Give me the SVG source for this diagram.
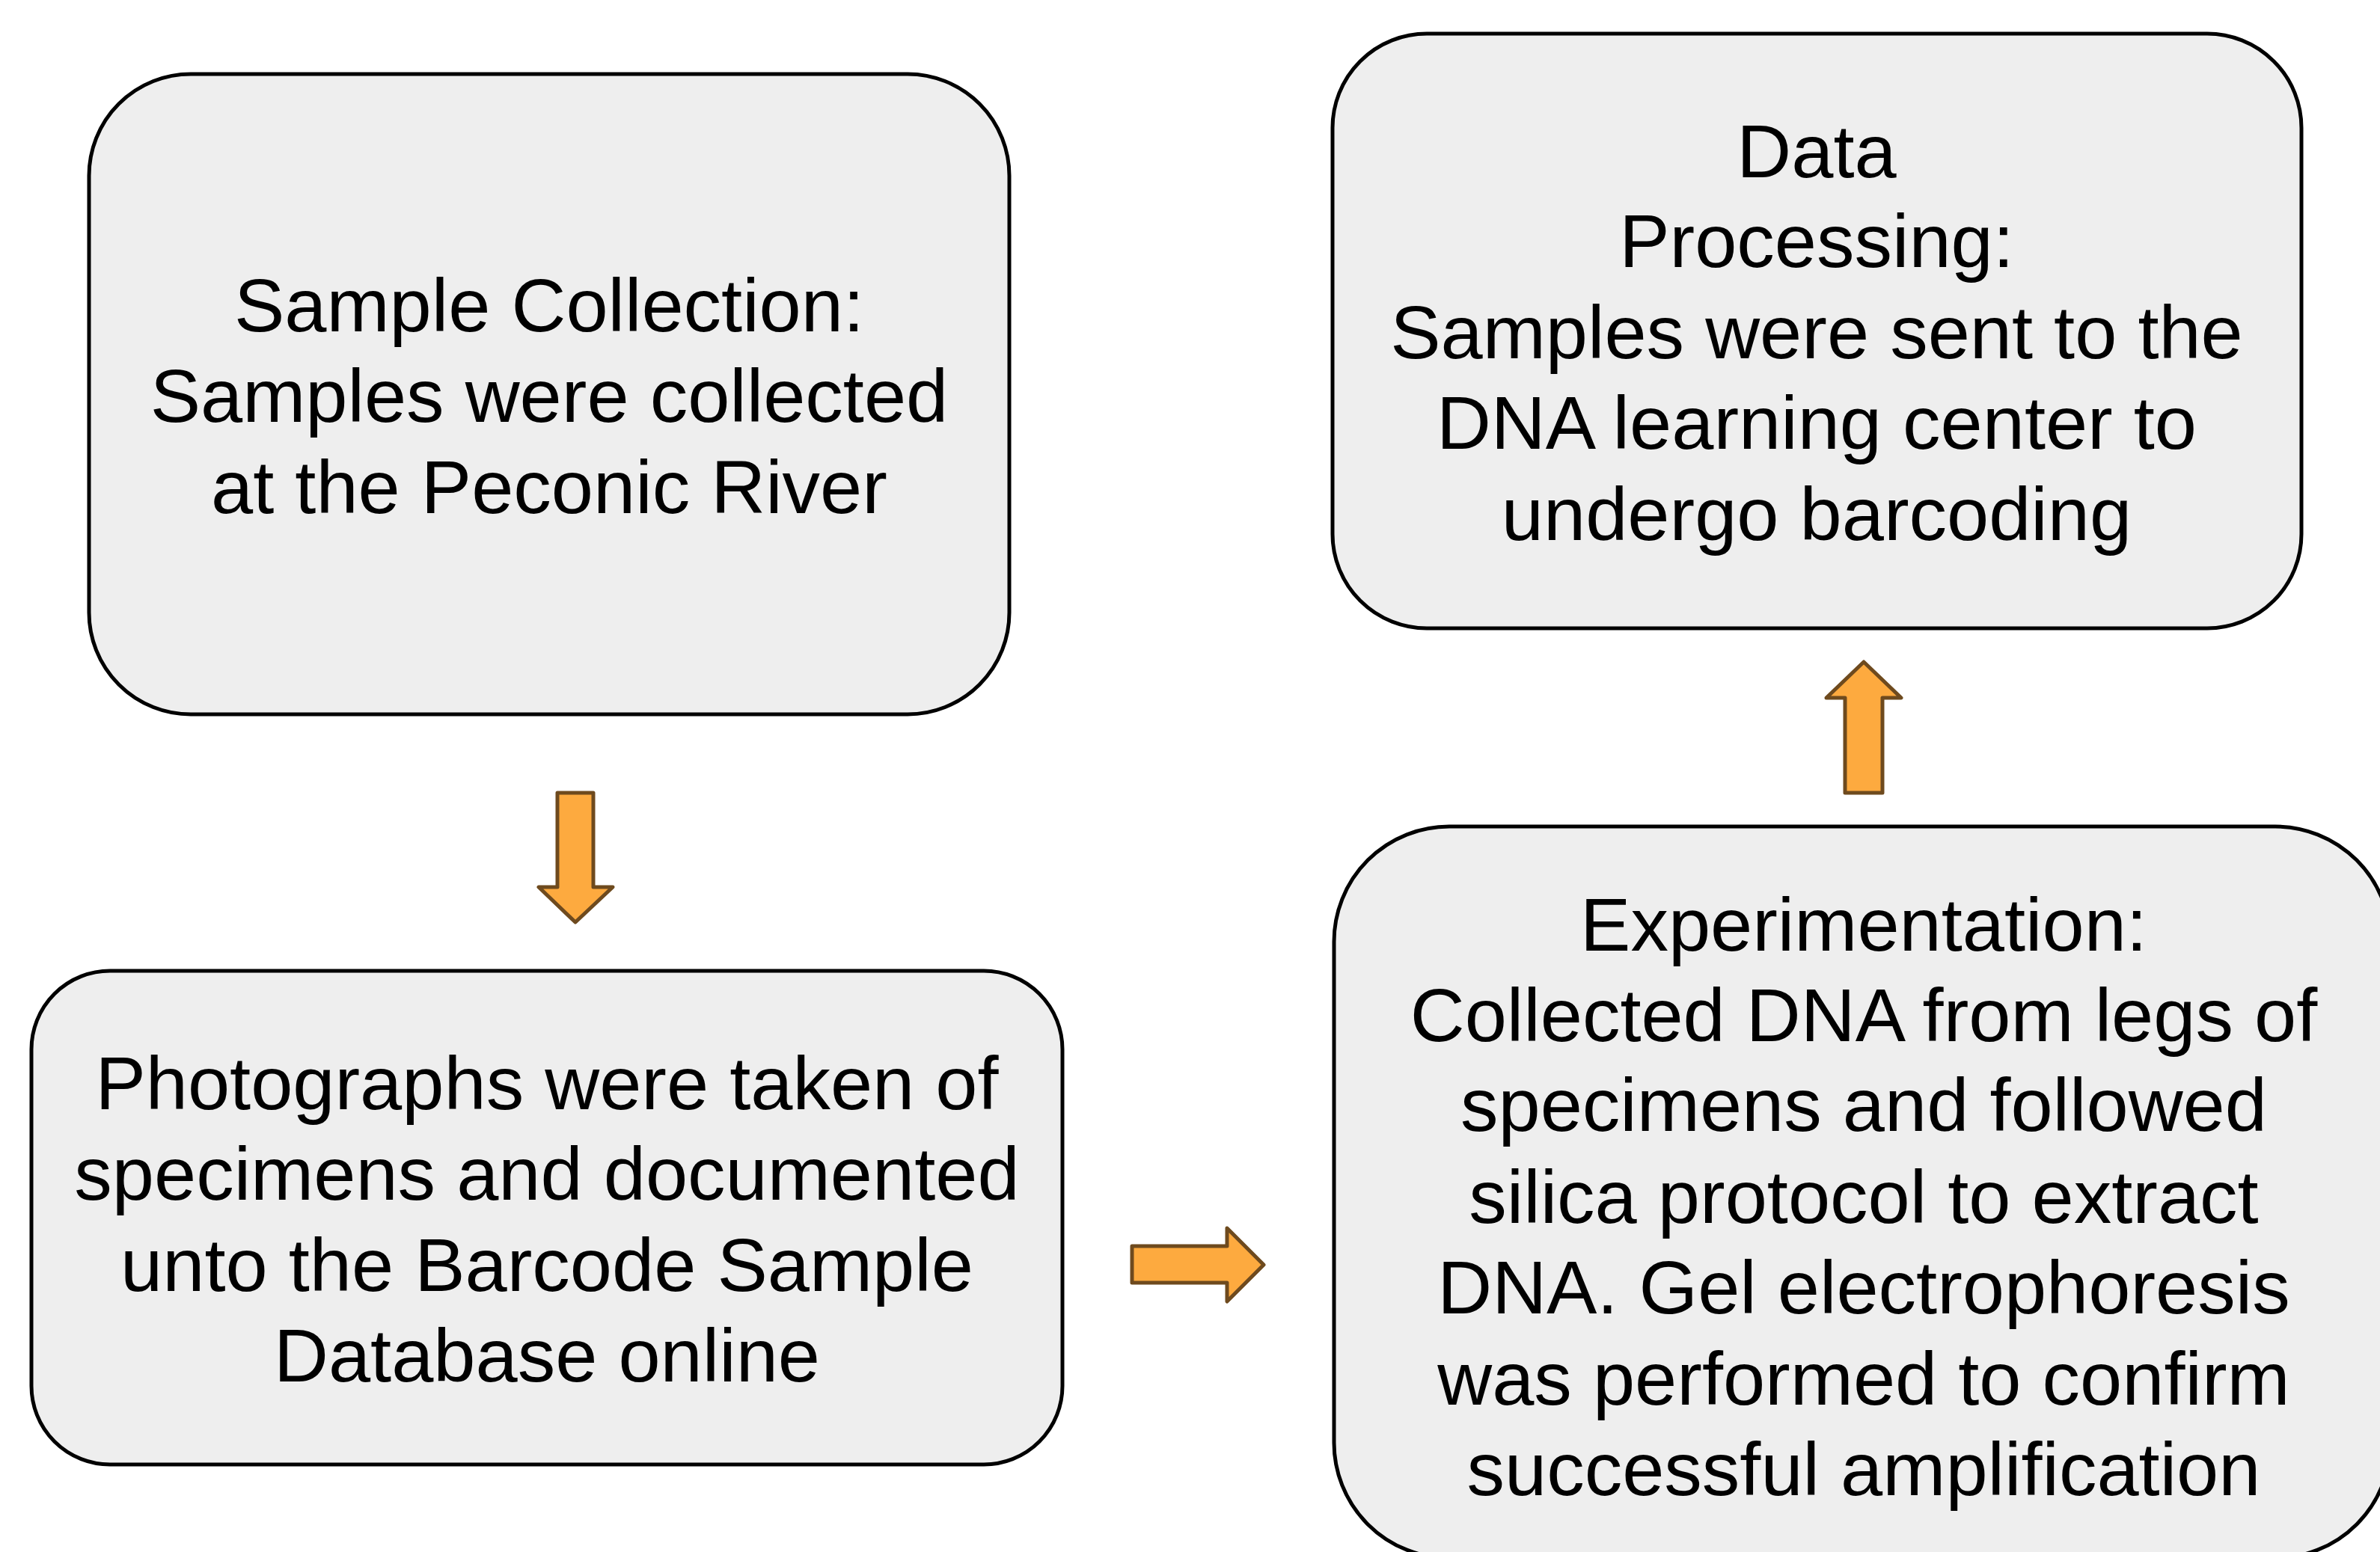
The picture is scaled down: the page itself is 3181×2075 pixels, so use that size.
<svg xmlns="http://www.w3.org/2000/svg" width="3181" height="2075" viewBox="0 0 3181 2075">
  <style>
    .box { fill: #eeeeee; stroke: #000000; stroke-width: 5; }
    .lbl { font-family: "Liberation Sans", Arial, sans-serif; font-size: 101px; fill: #000000; text-anchor: middle; }
    .arrow { fill: #fdaa3f; stroke: #6e4a1e; stroke-width: 5; stroke-linejoin: round; }
  </style>
  <rect width="3181" height="2075" fill="#ffffff"/>

  <!-- wrapped lines carry a trailing space, so they sit half a space to the right -->
  <g id="sample-collection">
    <rect class="box" x="119" y="99" width="1230" height="856" rx="136" ry="136"/>
    <text class="lbl">
      <tspan x="748" y="443">Sample Collection:</tspan>
      <tspan x="748" y="564">Samples were collected</tspan>
      <tspan x="734" y="686">at the Peconic River</tspan>
    </text>
  </g>

  <g id="photographs">
    <rect class="box" x="42" y="1298" width="1378" height="660" rx="105" ry="105"/>
    <text class="lbl">
      <tspan x="745" y="1483">Photographs were taken of</tspan>
      <tspan x="745" y="1604">specimens and documented</tspan>
      <tspan x="745" y="1726">unto the Barcode Sample</tspan>
      <tspan x="731" y="1847">Database online</tspan>
    </text>
  </g>

  <g id="experimentation">
    <rect class="box" x="1783" y="1105" width="1412" height="978" rx="154" ry="154"/>
    <text class="lbl">
      <tspan x="2505" y="1271">Experimentation:</tspan>
      <tspan x="2505" y="1392">Collected DNA from legs of</tspan>
      <tspan x="2505" y="1512">specimens and followed</tspan>
      <tspan x="2505" y="1635">silica protocol to extract</tspan>
      <tspan x="2505" y="1756">DNA. Gel electrophoresis</tspan>
      <tspan x="2505" y="1878">was performed to confirm</tspan>
      <tspan x="2491" y="1999">successful amplification</tspan>
    </text>
  </g>

  <g id="data-processing">
    <rect class="box" x="1781" y="45" width="1295" height="795" rx="126" ry="126"/>
    <text class="lbl">
      <tspan x="2442" y="237">Data</tspan>
      <tspan x="2442" y="357">Processing:</tspan>
      <tspan x="2442" y="479">Samples were sent to the</tspan>
      <tspan x="2442" y="600">DNA learning center to</tspan>
      <tspan x="2428" y="722">undergo barcoding</tspan>
    </text>
  </g>

  <g id="connectors">
    <polygon class="arrow" points="745,1060 793,1060 793,1186 819,1186 769,1233 720,1186 745,1186"/>
    <polygon class="arrow" points="1513,1666 1640,1666 1640,1642 1689,1691 1640,1740 1640,1715 1513,1715"/>
    <polygon class="arrow" points="2466,1060 2466,933 2441,933 2491,885 2541,933 2516,933 2516,1060"/>
  </g>
</svg>
